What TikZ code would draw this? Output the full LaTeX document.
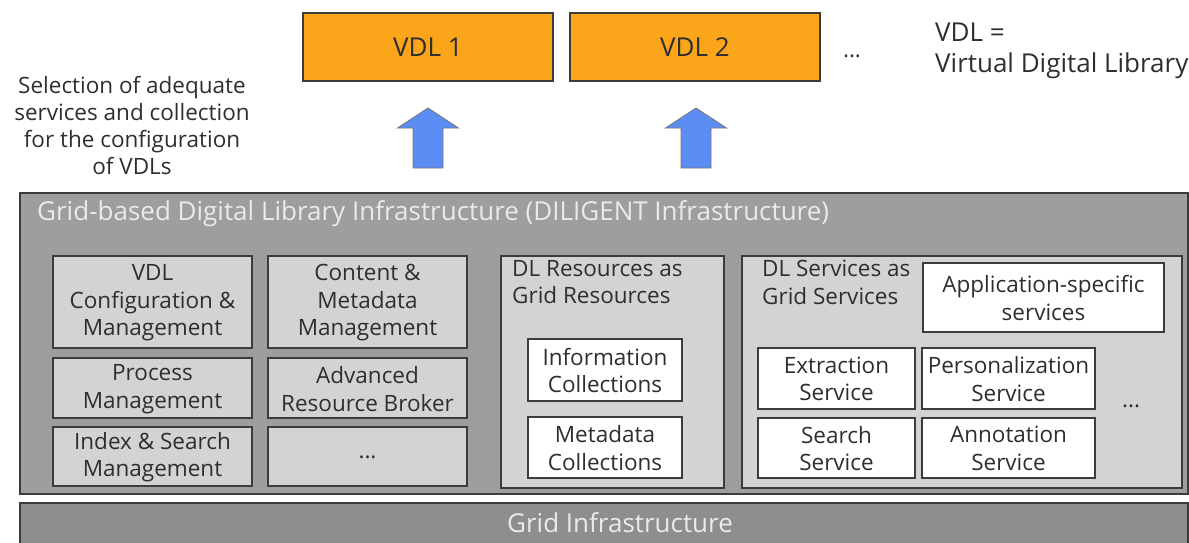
\documentclass[tikz,border=0pt]{standalone}
\usepackage{fontspec}
\setmainfont{Open Sans}
\definecolor{vdl}{HTML}{FBA51A}
\definecolor{outerg}{HTML}{9E9E9E}
\definecolor{innerg}{HTML}{D3D3D3}
\definecolor{gridg}{HTML}{8E8E8E}
\definecolor{edge}{HTML}{3C3C3C}
\definecolor{txt}{HTML}{2E2E2E}
\definecolor{lighttxt}{HTML}{EAEAEA}
\definecolor{arrowblue}{HTML}{5B8DF5}
\begin{document}
\begin{tikzpicture}[x=1pt,y=-1pt,
  fs/.style={font=\fontsize{22.5}{27.5}\selectfont},
  fb/.style={font=\fontsize{26}{31}\selectfont},
  box/.style={draw=edge,line width=1.6pt},
  vdlbox/.style={box,fill=vdl},
  gbox/.style={box,fill=innerg},
  wbox/.style={box,fill=white},
  lbl/.style={fs,text=txt,align=center,inner sep=0pt},
  blockarrow/.style={draw=edge!70,fill=arrowblue,line width=0.8pt,line join=miter}
]
\useasboundingbox (0,0) rectangle (1189,542);
% VDL boxes
\draw[vdlbox] (303,13) rectangle (553,81);
\node[lbl,fb] (vdl1) at (428,47) {VDL 1};
\draw[vdlbox] (570,13) rectangle (820,81);
\node[lbl,fb] (vdl2) at (695,47) {VDL 2};
\node[lbl] (dots0) at (852,56) {...};
\node[fb,text=txt,align=left,anchor=north west,inner sep=0pt] (def) at (935,23) {VDL =\\Virtual Digital Library};
\node[lbl,font=\fontsize{22.5}{27}\selectfont] (sel) at (132,125) {Selection of adequate\\services and collection\\for the configuration\\of VDLs};
% block arrows
\foreach \cx/\nm in {428/a1,696/a2}{
  \draw[blockarrow] (\cx,108) -- (\cx+30.5,128) -- (\cx+15,128) -- (\cx+15,168)
     -- (\cx-15,168) -- (\cx-15,128) -- (\cx-30.5,128) -- cycle;
}
% outer box
\draw[box,fill=outerg] (20,193) rectangle (1188,494);
\node[fb,text=lighttxt,anchor=west,inner sep=0pt] (title) at (37,214) {Grid-based Digital Library Infrastructure (DILIGENT Infrastructure)};
% left grey boxes
\draw[gbox] (53,256) rectangle (252,348);
\node[lbl] (b1) at (152.5,303) {VDL\\Configuration \&\\Management};
\draw[gbox] (268,256) rectangle (467,348);
\node[lbl] (b2) at (367.5,303) {Content \&\\Metadata\\Management};
\draw[gbox] (53,358) rectangle (252,418);
\node[lbl] (b3) at (152.5,389) {Process\\Management};
\draw[gbox] (268,358) rectangle (467,418);
\node[lbl] (b4) at (367.5,389) {Advanced\\Resource Broker};
\draw[gbox] (53,427) rectangle (252,486);
\node[lbl] (b5) at (152.5,457) {Index \& Search\\Management};
\draw[gbox] (268,427) rectangle (467,486);
\node[lbl] (b6) at (367.5,457) {...};
% DL resources
\draw[gbox] (501,256) rectangle (724,488);
\node[fs,text=txt,align=left,anchor=north west,inner sep=0pt] (res) at (512,260) {DL Resources as\\Grid Resources};
\draw[wbox] (528,339) rectangle (682,401);
\node[lbl] (ic) at (605,370.5) {Information\\Collections};
\draw[wbox] (528,417) rectangle (682,478);
\node[lbl] (mc) at (605,448) {Metadata\\Collections};
% DL services
\draw[gbox] (742,256) rectangle (1182,488);
\node[fs,text=txt,align=left,anchor=north west,inner sep=0pt] (srv) at (762,260) {DL Services as\\Grid Services};
\draw[wbox] (923,263) rectangle (1164,332);
\node[lbl] (app) at (1043.5,298) {Application-specific\\services};
\draw[wbox] (758,348) rectangle (915,409);
\node[lbl] (ext) at (836.5,379) {Extraction\\Service};
\draw[wbox] (922,348) rectangle (1095,409);
\node[lbl] (per) at (1008.5,379) {Personalization\\Service};
\draw[wbox] (758,418) rectangle (915,478);
\node[lbl] (sea) at (836.5,448.5) {Search\\Service};
\draw[wbox] (922,418) rectangle (1095,478);
\node[lbl] (ann) at (1008.5,448.5) {Annotation\\Service};
\node[lbl] (dots2) at (1131,406) {...};
% grid infrastructure
\draw[box,fill=gridg] (20,503) rectangle (1188,545);
\node[fb,text=lighttxt,inner sep=0pt] (grid) at (620,523) {Grid Infrastructure};
\end{tikzpicture}
\end{document}
